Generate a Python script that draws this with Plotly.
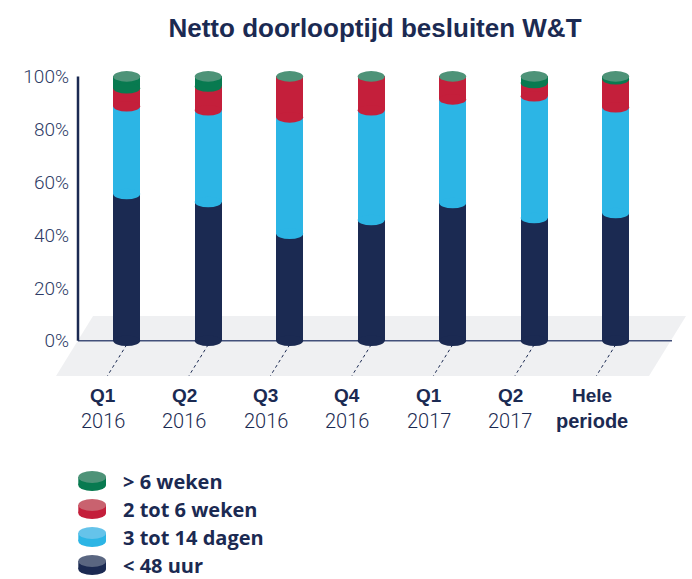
import plotly.graph_objects as go

# categories (two-line x labels)
label_top = ["Q1", "Q2", "Q3", "Q4", "Q1", "Q2", "Hele"]
label_bottom = ["2016", "2016", "2016", "2016", "2017", "2017", "periode"]

# series values (% of decisions), bottom to top
lt_48_uur = [55.5, 52.5, 40.5, 45.7, 52.1, 46.4, 48.3]
d3_tot_14 = [33.2, 34.7, 44.0, 41.5, 39.2, 46.1, 40.0]
w2_tot_6 = [6.8, 9.0, 15.5, 12.8, 8.7, 5.0, 10.6]
gt_6_weken = [4.5, 3.8, 0.0, 0.0, 0.0, 2.5, 1.1]

y_tick_vals = [0, 20, 40, 60, 80, 100]
y_tick_text = ["0%", "20%", "40%", "60%", "80%", "100%"]

series_names = ["< 48 uur", "3 tot 14 dagen", "2 tot 6 weken", "> 6 weken"]
series_vals = [lt_48_uur, d3_tot_14, w2_tot_6, gt_6_weken]
side_colors = ["#1b2a52", "#2cb5e5", "#c41f3b", "#087a50"]
top_colors = ["#5a6681", "#65c3ea", "#c9626f", "#4e9378"]

NAVY = "#1b2a52"
W, H = 692, 579
L, R, T, B = 78, 20, 60, 203
BAR_W = 0.331
ELL_H = 4.0

x = list(range(len(label_top)))


def px(v):
    return (v - L) / (W - L - R)


def py(v):
    return (H - B - v) / (H - T - B)


fig = go.Figure()
for name, vals, col in zip(series_names, series_vals, side_colors):
    fig.add_trace(go.Bar(x=x, y=vals, name=name, width=BAR_W,
                         marker=dict(color=col, line=dict(width=0)),
                         hovertemplate=name + ": %{y:.1f}%<extra></extra>"))

shapes = []
# floor
floor = [(93, 316), (686, 316), (649, 376), (56, 376)]
path = "M " + " L ".join(f"{px(a):.4f},{py(b):.4f}" for a, b in floor) + " Z"
shapes.append(dict(type="path", path=path, xref="paper", yref="paper",
                   fillcolor="#eff0f2", line=dict(width=0), layer="below"))
# axis lines
shapes.append(dict(type="line", xref="paper", yref="y", x0=0, x1=1, y0=0, y1=0,
                   line=dict(color="#42507a", width=1.5), layer="below"))
shapes.append(dict(type="line", xref="paper", yref="y", x0=0, x1=0, y0=0, y1=100,
                   line=dict(color=NAVY, width=2.5), layer="below"))

for i in x:
    # dotted leader to label
    shapes.append(dict(type="line", xref="x", yref="y", x0=i, y0=-1.5,
                       x1=i - 0.237, y1=-13.3,
                       line=dict(color=NAVY, width=1, dash="dot"), layer="below"))
    base = 0.0
    for vals, col in zip(series_vals, side_colors):
        v = vals[i]
        if v > 0:
            shapes.append(dict(type="circle", xref="x", yref="y",
                               x0=i - BAR_W / 2, x1=i + BAR_W / 2,
                               y0=base - ELL_H / 2, y1=base + ELL_H / 2,
                               fillcolor=col, line=dict(width=0), layer="above"))
        base += v
    shapes.append(dict(type="circle", xref="x", yref="y",
                       x0=i - BAR_W / 2, x1=i + BAR_W / 2,
                       y0=base - ELL_H / 2, y1=base + ELL_H / 2,
                       fillcolor=top_colors[3], line=dict(width=0), layer="above"))

annotations = []
for i in x:
    annotations.append(dict(x=i, xref="x", y=py(395), yref="paper", xshift=-24,
                            xanchor="center", yanchor="middle",
                            text=f"<b>{label_top[i]}</b>", showarrow=False,
                            font=dict(size=19, color=NAVY, family="Liberation Sans")))
    bottom = label_bottom[i]
    fam, wt = "Roboto", 300
    if label_top[i] == "Hele":
        bottom = f"<b>{bottom}</b>"
        fam, wt = "Liberation Sans", 400
    annotations.append(dict(x=i, xref="x", y=py(421), yref="paper", xshift=-24,
                            xanchor="center", yanchor="middle",
                            text=bottom, showarrow=False,
                            font=dict(size=20, color=NAVY, family=fam, weight=wt)))

# legend (top entry first)
for r, k in enumerate(reversed(range(len(series_names)))):
    cy = 477 + 28 * r
    shapes.append(dict(type="circle", xref="paper", yref="paper",
                       x0=px(78.3), x1=px(106), y0=py(cy + 8 + 6), y1=py(cy + 8 - 6),
                       fillcolor=side_colors[k], line=dict(width=0)))
    shapes.append(dict(type="rect", xref="paper", yref="paper",
                       x0=px(78.3), x1=px(106), y0=py(cy + 8), y1=py(cy),
                       fillcolor=side_colors[k], line=dict(width=0)))
    shapes.append(dict(type="circle", xref="paper", yref="paper",
                       x0=px(78.3), x1=px(106), y0=py(cy + 6), y1=py(cy - 6),
                       fillcolor=top_colors[k], line=dict(width=0)))
    annotations.append(dict(x=px(121), xref="paper", y=py(cy + 4), yref="paper",
                            xanchor="left", yanchor="middle",
                            text=f"<b>{series_names[k]}</b>", showarrow=False,
                            font=dict(size=20, color=NAVY, family="Open Sans")))

fig.update_layout(
    width=W, height=H,
    barmode="stack",
    showlegend=False,
    title=dict(text="<b>Netto doorlooptijd besluiten W&T</b>", x=0.5, xref="paper",
               xanchor="center", y=1 - 28 / H, yanchor="middle",
               font=dict(size=26, color=NAVY, family="Liberation Sans")),
    xaxis=dict(range=[-0.5975, 6.691], showticklabels=False, showgrid=False,
               zeroline=False, showline=False, fixedrange=True),
    yaxis=dict(range=[-13.35, 106.2], tickmode="array", tickvals=y_tick_vals,
               ticktext=y_tick_text, showgrid=False, zeroline=False, showline=False,
               ticks="", ticklabelstandoff=8, fixedrange=True,
               tickfont=dict(size=19, color="#2e3c66", family="Roboto", weight=300)),
    shapes=shapes,
    annotations=annotations,
    margin=dict(l=L, r=R, t=T, b=B),
    paper_bgcolor="white",
    plot_bgcolor="rgba(0,0,0,0)",
)

fig.write_html("out.html", config={"displayModeBar": False},
               post_script="document.body.style.margin='0px';")
